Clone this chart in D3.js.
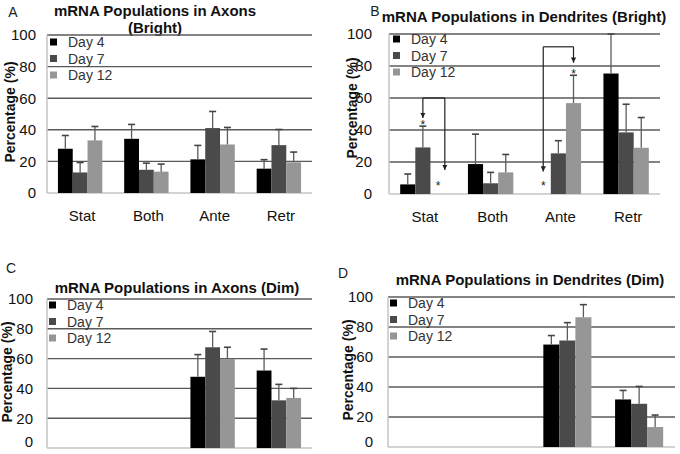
<!DOCTYPE html>
<meta charset="utf-8">
<style>
body { margin: 0; background: #fff; }
svg { display: block; font-family: "Liberation Sans", Arial, sans-serif; }
</style>
<body>
<script src="https://d3js.org/d3.v7.min.js"></script>
<script>
var categories = ["Stat", "Both", "Ante", "Retr"];
var days = ["Day 4", "Day 7", "Day 12"];
var yTicks = [0, 20, 40, 60, 80, 100];

// values per category: [Day 4, Day 7, Day 12]
var axonsBright    = [[28, 13, 33.3], [34.3, 14.7, 13.5], [21.3, 41.1, 30.7], [15.4, 30.3, 19.4]];
var axonsBrightErr = [[8.4, 6.3, 8.8], [9.1, 4.2, 4.8], [8.8, 10.5, 10.8], [5.7, 9.9, 6.5]];

var dendBright    = [[6, 29.1, 0], [18.7, 6.7, 13.5], [0, 25.4, 56.8], [75.3, 38.5, 28.9]];
var dendBrightErr = [[6.5, 13.3, 0], [18.7, 6.8, 11.2], [0, 7.9, 17.4], [24.7, 17.6, 18.9]];

var axonsDim    = [[0, 0, 0], [0, 0, 0], [47.8, 67.6, 59.8], [52, 32, 33.6]];
var axonsDimErr = [[0, 0, 0], [0, 0, 0], [14.9, 10.6, 7.8], [14.4, 10.7, 6.4]];

var dendDim    = [[0, 0, 0], [0, 0, 0], [68.3, 71, 86.5], [31.7, 28.8, 13.3]];
var dendDimErr = [[0, 0, 0], [0, 0, 0], [6, 11.9, 8.4], [6, 11.6, 8]];

// significance brackets in panel B (series positions as index, heights in %)
var brackets = [
  {cat: "Stat", from: 1, to: 2.45, top: 60, fromEnd: 47.5, toEnd: 15},
  {cat: "Ante", from: 0, to: 2, top: 92, fromEnd: 14, toEnd: 82}
];
var stars = [
  {cat: "Stat", s: 1, v: 45}, {cat: "Stat", s: 2, v: 7},
  {cat: "Ante", s: 0, v: 7}, {cat: "Ante", s: 2, v: 77}
];

var colors = ["#000000", "#4a4a4a", "#969696"];

var svg = d3.select("body").append("svg")
    .attr("width", 680)
    .attr("height", 454);

svg.append("defs").append("marker")
    .attr("id", "arr")
    .attr("viewBox", "0 0 10 10")
    .attr("refX", 10).attr("refY", 5)
    .attr("markerWidth", 4.5).attr("markerHeight", 4.5)
    .attr("orient", "auto")
  .append("path")
    .attr("d", "M0,0L10,5L0,10z")
    .attr("fill", "#222");

var panels = [
  {letter: "A", lx: 13, ly: 17, title: ["mRNA Populations in Axons", "(Bright)"], tx: 155, ty: 16,
   left: 47, right: 312, top: 35, bottom: 193, tickGap: 11, ylx: 10, yly: 112,
   legX: 50, legY: 42, vals: axonsBright, errs: axonsBrightErr, cats: true},
  {letter: "B", lx: 375, ly: 16, title: ["mRNA Populations in Dendrites (Bright)"], tx: 524, ty: 22,
   left: 389, right: 660, top: 34, bottom: 194, tickGap: 17, ylx: 352, yly: 108,
   legX: 393, legY: 39, vals: dendBright, errs: dendBrightErr, cats: true, notes: true},
  {letter: "C", lx: 11, ly: 273, title: ["mRNA Populations in Axons (Dim)"], tx: 177, ty: 293,
   left: 47, right: 312, top: 299, bottom: 448, tickGap: 14, ylx: 7, yly: 372,
   legX: 49, legY: 305, vals: axonsDim, errs: axonsDimErr},
  {letter: "D", lx: 343, ly: 278, title: ["mRNA Populations in Dendrites (Dim)"], tx: 530, ty: 285,
   left: 388, right: 675, top: 297, bottom: 447, tickGap: 15, ylx: 348, yly: 370,
   legX: 390, legY: 303, vals: dendDim, errs: dendDimErr}
];

panels.forEach(drawPanel);

function drawPanel(p) {
  var g = svg.append("g");

  var y = d3.scaleLinear().domain([0, 100]).range([p.bottom, p.top]);
  var x0 = d3.scaleBand().domain(categories).range([p.left, p.right])
      .paddingInner(0.33).paddingOuter(0.165);
  var x1 = d3.scaleBand().domain(d3.range(days.length)).range([0, x0.bandwidth()]);

  // panel letter and title
  g.append("text").attr("x", p.lx).attr("y", p.ly)
      .attr("text-anchor", "middle").attr("font-size", 14).attr("fill", "#222")
      .text(p.letter);
  p.title.forEach(function(t, i) {
    g.append("text").attr("x", p.tx).attr("y", p.ty + i * 17)
        .attr("text-anchor", "middle").attr("font-size", 15).attr("font-weight", "bold")
        .attr("fill", "#111").text(t);
  });

  // grid
  g.selectAll(".grid").data(yTicks.filter(function(d) { return d > 0; }))
    .enter().append("line")
      .attr("x1", p.left).attr("x2", p.right)
      .attr("y1", function(d) { return y(d); }).attr("y2", function(d) { return y(d); })
      .attr("stroke", "#5a5a5a").attr("stroke-width", 1.4);
  g.append("line").attr("x1", p.left).attr("x2", p.right)
      .attr("y1", y(0)).attr("y2", y(0))
      .attr("stroke", "#c4c4c4").attr("stroke-width", 1.5);
  g.append("line").attr("x1", p.left).attr("x2", p.left)
      .attr("y1", y(100)).attr("y2", y(0))
      .attr("stroke", "#c4c4c4").attr("stroke-width", 1.5);

  // tick labels; the bottom one of the lower panels sits at the page edge
  g.selectAll(".tick").data(yTicks).enter().append("text")
      .attr("x", p.left - p.tickGap).attr("y", function(d) { return Math.min(y(d), 442); })
      .attr("dy", "0.36em").attr("text-anchor", "end")
      .attr("font-size", 15).attr("fill", "#111")
      .text(function(d) { return d; });

  g.append("text")
      .attr("transform", "translate(" + p.ylx + "," + p.yly + ") rotate(-90)")
      .attr("text-anchor", "middle").attr("dominant-baseline", "central")
      .attr("font-size", 14).attr("font-weight", "bold").attr("fill", "#111")
      .text("Percentage (%)");

  if (p.cats) {
    g.selectAll(".cat").data(categories).enter().append("text")
        .attr("x", function(d) { return x0(d) + x0.bandwidth() / 2 + 2; })
        .attr("y", p.bottom + 28)
        .attr("text-anchor", "middle").attr("font-size", 15).attr("fill", "#111")
        .text(function(d) { return d; });
  }

  // bars
  var rows = [];
  categories.forEach(function(c, ci) {
    days.forEach(function(dd, si) {
      rows.push({cat: c, s: si, v: p.vals[ci][si], e: p.errs[ci][si]});
    });
  });
  rows = rows.filter(function(d) { return d.v > 0; });

  g.selectAll(".bar").data(rows).enter().append("rect")
      .attr("x", function(d) { return x0(d.cat) + x1(d.s); })
      .attr("y", function(d) { return y(d.v); })
      .attr("width", x1.bandwidth())
      .attr("height", function(d) { return y(0) - y(d.v); })
      .attr("fill", function(d) { return colors[d.s]; });

  var cx = function(d) { return x0(d.cat) + x1(d.s) + x1.bandwidth() / 2; };
  g.selectAll(".err").data(rows).enter().append("line")
      .attr("x1", cx).attr("x2", cx)
      .attr("y1", function(d) { return y(d.v); })
      .attr("y2", function(d) { return y(d.v + d.e); })
      .attr("stroke", "#5c5c5c").attr("stroke-width", 1.3);
  g.selectAll(".cap").data(rows).enter().append("line")
      .attr("x1", function(d) { return cx(d) - 3.5; })
      .attr("x2", function(d) { return cx(d) + 3.5; })
      .attr("y1", function(d) { return y(d.v + d.e); })
      .attr("y2", function(d) { return y(d.v + d.e); })
      .attr("stroke", "#444").attr("stroke-width", 1.6);

  // legend
  var leg = g.selectAll(".leg").data(days).enter().append("g")
      .attr("transform", function(d, i) { return "translate(" + p.legX + "," + (p.legY + i * 16.5) + ")"; });
  leg.append("rect").attr("x", 0).attr("y", -3.5).attr("width", 7).attr("height", 7)
      .attr("fill", function(d, i) { return colors[i]; });
  leg.append("text").attr("x", 18).attr("y", 0).attr("dy", "0.36em")
      .attr("font-size", 14).attr("fill", "#333")
      .text(function(d) { return d; });

  if (p.notes) {
    var bx = function(cat, s) { return x0(cat) + x1.bandwidth() * (s + 0.5); };
    brackets.forEach(function(b) {
      var xa = bx(b.cat, b.from), xb = bx(b.cat, b.to);
      g.append("path")
          .attr("d", "M" + xa + "," + y(b.top) + "H" + xb)
          .attr("fill", "none").attr("stroke", "#222").attr("stroke-width", 1.2);
      g.append("line").attr("x1", xa).attr("x2", xa)
          .attr("y1", y(b.top)).attr("y2", y(b.fromEnd))
          .attr("stroke", "#222").attr("stroke-width", 1.2).attr("marker-end", "url(#arr)");
      g.append("line").attr("x1", xb).attr("x2", xb)
          .attr("y1", y(b.top)).attr("y2", y(b.toEnd))
          .attr("stroke", "#222").attr("stroke-width", 1.2).attr("marker-end", "url(#arr)");
    });
    g.selectAll(".star").data(stars).enter().append("text")
        .attr("x", function(d) { return bx(d.cat, d.s); })
        .attr("y", function(d) { return y(d.v) + 7; })
        .attr("text-anchor", "middle").attr("font-size", 12).attr("fill", "#222")
        .text("*");
  }
}
</script>
</body>
